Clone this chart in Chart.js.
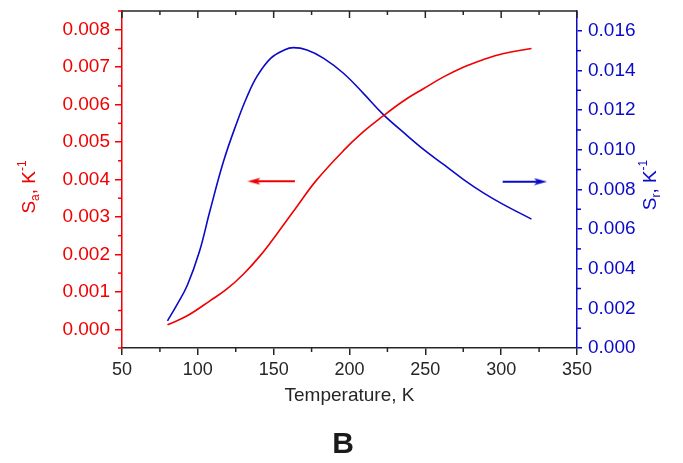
<!DOCTYPE html>
<html>
<head>
<meta charset="utf-8">
<script src="https://cdn.jsdelivr.net/npm/chart.js@4.4.1/dist/chart.umd.min.js"></script>
<style>
  html, body { margin: 0; padding: 0; background: #fff; }
  canvas { display: block; }
</style>
</head>
<body>
<canvas id="chart" width="683" height="463"></canvas>
<script>
// ── Data ──
// Sa (left axis, red) and Sr (right axis, blue) vs temperature
const tempSa = [80, 93, 108, 119, 130, 141, 152, 165, 178, 196, 209, 222, 236, 249, 262, 275, 288, 301, 320];
const saValues = [0.00012, 0.00036, 0.00076, 0.00107, 0.00147, 0.00196, 0.00254, 0.00326, 0.00397, 0.00477, 0.00527, 0.00569, 0.00611, 0.00643, 0.00674, 0.00700, 0.00720, 0.00736, 0.00750];

const tempSr = [80, 86, 93, 101, 108, 117, 126, 132, 139, 148, 157, 163, 172, 183, 196, 209, 222, 236, 249, 262, 275, 288, 301, 320];
const srValues = [0.00137, 0.00215, 0.00315, 0.00485, 0.00692, 0.00943, 0.01143, 0.01260, 0.01370, 0.01461, 0.01503, 0.01515, 0.01503, 0.01461, 0.01386, 0.01286, 0.01180, 0.01085, 0.01001, 0.00926, 0.00851, 0.00784, 0.00726, 0.00650];

// Tick values
const xTicks = [50, 100, 150, 200, 250, 300, 350];
const xMinor = [75, 125, 175, 225, 275, 325];
const saTicks = [0, 0.001, 0.002, 0.003, 0.004, 0.005, 0.006, 0.007, 0.008];
const saMinor = [-0.0005, 0.0005, 0.0015, 0.0025, 0.0035, 0.0045, 0.0055, 0.0065, 0.0075, 0.0085];
const srTicks = [0, 0.002, 0.004, 0.006, 0.008, 0.010, 0.012, 0.014, 0.016];
const srMinor = [0.001, 0.003, 0.005, 0.007, 0.009, 0.011, 0.013, 0.015];

// Arrows pointing at each curve's axis: [shaft start, head] in K, height on own axis
const arrowSaX = [164, 137];
const arrowSaY = 0.00395;
const arrowSrX = [301, 326];
const arrowSrY = 0.00839;

const RED = '#f00000';
const BLUE = '#0a0ac8';
const INK = '#262626';
const FONT = "'Liberation Sans', Arial, sans-serif";

Chart.defaults.font.family = FONT;

// small arrow head used as point style
function arrowHead(color) {
  const c = document.createElement('canvas');
  c.width = 13; c.height = 8;
  const g = c.getContext('2d');
  g.fillStyle = color;
  g.beginPath();
  g.moveTo(0, 0.5);
  g.lineTo(13, 4);
  g.lineTo(0, 7.5);
  g.lineTo(3, 4);
  g.closePath();
  g.fill();
  return c;
}

// draws "S_a, K^-1" style labels, rotated, centred on (cx, cy)
function drawRich(ctx, parts, cx, cy, color) {
  ctx.save();
  ctx.translate(cx, cy);
  ctx.rotate(-Math.PI / 2);
  ctx.fillStyle = color;
  ctx.textBaseline = 'middle';
  let total = 0;
  parts.forEach(p => {
    ctx.font = `${p.size}px ${FONT}`;
    p.w = ctx.measureText(p.t).width;
    total += p.w;
  });
  let x = -total / 2;
  parts.forEach(p => {
    ctx.font = `${p.size}px ${FONT}`;
    ctx.fillText(p.t, x, p.dy || 0);
    x += p.w;
  });
  ctx.restore();
}

const decorations = {
  id: 'decorations',
  afterDraw(chart) {
    const { ctx, chartArea: a, scales } = chart;
    const { x, y, y1 } = scales;
    const seg = (x0, y0, x2, y2) => { ctx.beginPath(); ctx.moveTo(x0, y0); ctx.lineTo(x2, y2); ctx.stroke(); };
    ctx.save();
    ctx.lineWidth = 1.5;

    // top frame with inward ticks
    ctx.strokeStyle = INK;
    seg(a.left, a.top, a.right, a.top);
    xTicks.forEach(v => { const p = x.getPixelForValue(v); seg(p, a.top, p, a.top + 7); });
    xMinor.forEach(v => { const p = x.getPixelForValue(v); seg(p, a.top, p, a.top + 4); });
    // bottom minor ticks
    xMinor.forEach(v => { const p = x.getPixelForValue(v); seg(p, a.bottom, p, a.bottom + 4); });

    // left minor ticks
    ctx.strokeStyle = RED;
    saMinor.forEach(v => { const p = y.getPixelForValue(v); seg(a.left - 4, p, a.left, p); });
    // right minor ticks
    ctx.strokeStyle = BLUE;
    srMinor.forEach(v => { const p = y1.getPixelForValue(v); seg(a.right, p, a.right + 4, p); });

    // axis titles with sub/superscripts
    drawRich(ctx, [
      { t: 'S', size: 19 }, { t: 'a', size: 12, dy: 6 }, { t: ', K', size: 19 }, { t: '-1', size: 12, dy: -7 }
    ], 30, 187, RED);
    drawRich(ctx, [
      { t: 'S', size: 19 }, { t: 'r', size: 12, dy: 6 }, { t: ', K', size: 19 }, { t: '-1', size: 12, dy: -7 }
    ], 651, 185, BLUE);

    // panel letter
    ctx.fillStyle = '#1a1a1a';
    ctx.font = `bold 30px ${FONT}`;
    ctx.textAlign = 'center';
    ctx.textBaseline = 'middle';
    ctx.fillText('B', 343, 445);
    ctx.restore();
  }
};

const toXY = (xs, ys) => xs.map((v, i) => ({ x: v, y: ys[i] }));
const noPad = s => { s.paddingTop = 0; s.paddingBottom = 0; };

new Chart(document.getElementById('chart'), {
  type: 'line',
  data: {
    datasets: [
      {
        label: 'Sa',
        data: toXY(tempSa, saValues),
        yAxisID: 'y',
        borderColor: RED,
        borderWidth: 1.6,
        pointRadius: 0,
        tension: 0.4,
        fill: false
      },
      {
        label: 'Sr',
        data: toXY(tempSr, srValues),
        yAxisID: 'y1',
        borderColor: BLUE,
        borderWidth: 1.6,
        pointRadius: 0,
        tension: 0.4,
        fill: false
      },
      {
        label: 'arrow Sa',
        data: arrowSaX.map(v => ({ x: v, y: arrowSaY })),
        yAxisID: 'y',
        borderColor: RED,
        borderWidth: 2,
        pointRadius: [0, 6],
        pointStyle: arrowHead(RED),
        pointRotation: 180
      },
      {
        label: 'arrow Sr',
        data: arrowSrX.map(v => ({ x: v, y: arrowSrY })),
        yAxisID: 'y1',
        borderColor: BLUE,
        borderWidth: 2,
        pointRadius: [0, 6],
        pointStyle: arrowHead(BLUE),
        pointRotation: 0
      }
    ]
  },
  options: {
    responsive: false,
    animation: false,
    layout: { padding: { top: 11, bottom: 56, left: 0, right: 0 } },
    plugins: {
      legend: { display: false },
      tooltip: { enabled: false }
    },
    scales: {
      x: {
        type: 'linear',
        min: 50,
        max: 350,
        afterBuildTicks: s => { s.ticks = xTicks.map(v => ({ value: v })); },
        afterFit: s => { s.height = 59; s.paddingLeft = 0; s.paddingRight = 0; },
        ticks: { color: INK, font: { size: 18 }, padding: 4, maxRotation: 0 },
        grid: { drawOnChartArea: false, drawTicks: true, tickLength: 7, color: INK, lineWidth: 1.5 },
        border: { color: INK, width: 1.5 },
        title: { display: true, text: 'Temperature, K', color: INK, font: { size: 19 }, padding: 0 }
      },
      y: {
        position: 'left',
        min: -0.0005,
        max: 0.0085,
        afterBuildTicks: s => { s.ticks = saTicks.map(v => ({ value: v })); },
        afterFit: s => { s.width = 122; noPad(s); },
        ticks: { color: RED, font: { size: 19 }, padding: 5, callback: v => v.toFixed(3) },
        grid: { drawOnChartArea: false, drawTicks: true, tickLength: 7, color: RED, lineWidth: 1.5 },
        border: { color: RED, width: 1.5 }
      },
      y1: {
        position: 'right',
        min: 0,
        max: 0.017,
        afterBuildTicks: s => { s.ticks = srTicks.map(v => ({ value: v })); },
        afterFit: s => { s.width = 106; noPad(s); },
        ticks: { color: BLUE, font: { size: 19 }, padding: 6, callback: v => v.toFixed(3) },
        grid: { drawOnChartArea: false, drawTicks: true, tickLength: 5, color: BLUE, lineWidth: 1.5 },
        border: { color: BLUE, width: 1.5 }
      }
    }
  },
  plugins: [decorations]
});
</script>
</body>
</html>
